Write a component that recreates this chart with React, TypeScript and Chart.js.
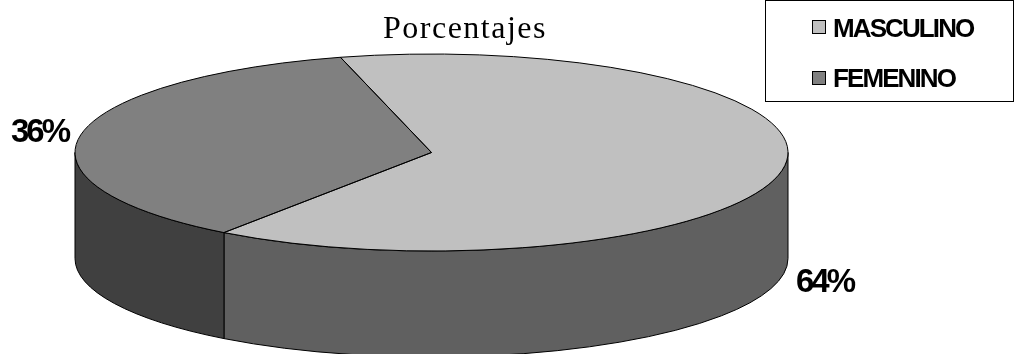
import React, { useEffect, useRef } from "react";
import { Chart, registerables } from "chart.js";

Chart.register(...registerables);

const categories = ["MASCULINO", "FEMENINO"];
const percentages = [64, 36];
const topColors = ["#c0c0c0", "#808080"];
const wallColors = ["#606060", "#404040"];
const chartTitle = "Porcentajes";

// Geometry of the tilted disc
const CX = 431.5;
const CY = 152.5;
const RX = 356.5;
const RY = 98.5;
const DEPTH = 106;
const LINE = "#000000";

const FULL = Math.PI * 2;

function arcProps(chart: any) {
  return chart
    .getDatasetMeta(0)
    .data.map((a: any) => a.getProps(["x", "y", "startAngle", "endAngle", "outerRadius"], true));
}

function drawText(
  ctx: CanvasRenderingContext2D,
  text: string,
  x: number,
  y: number,
  font: string,
  spacing: number,
  clipRight?: number
) {
  ctx.save();
  if (clipRight !== undefined) {
    ctx.beginPath();
    ctx.rect(0, 0, clipRight, 354);
    ctx.clip();
  }
  ctx.font = font;
  (ctx as any).letterSpacing = `${spacing}px`;
  ctx.fillStyle = "#000000";
  ctx.textAlign = "left";
  ctx.textBaseline = "alphabetic";
  ctx.fillText(text, x, y);
  ctx.restore();
}

// Squashes the library's pie into an ellipse and adds the cylinder wall below it
const discPlugin = {
  id: "disc",
  beforeDatasetsDraw(chart: any) {
    const ctx: CanvasRenderingContext2D = chart.ctx;
    const arcs = arcProps(chart);
    arcs.forEach((a: any, i: number) => {
      for (let k = -1; k <= 1; k++) {
        const s = Math.max(a.startAngle, k * FULL);
        const e = Math.min(a.endAngle, k * FULL + Math.PI);
        if (e <= s) continue;
        ctx.beginPath();
        ctx.ellipse(CX, CY, RX, RY, 0, s, e);
        ctx.ellipse(CX, CY + DEPTH, RX, RY, 0, e, s, true);
        ctx.closePath();
        ctx.fillStyle = wallColors[i];
        ctx.fill();
        ctx.strokeStyle = LINE;
        ctx.lineWidth = 1;
        ctx.stroke();
      }
    });
    const a0 = arcs[0];
    ctx.save();
    ctx.translate(CX, CY);
    ctx.scale(RX / a0.outerRadius, RY / a0.outerRadius);
    ctx.translate(-a0.x, -a0.y);
  },
  afterDatasetsDraw(chart: any) {
    const ctx: CanvasRenderingContext2D = chart.ctx;
    ctx.restore();
    arcProps(chart).forEach((a: any) => {
      ctx.beginPath();
      ctx.moveTo(CX, CY);
      ctx.ellipse(CX, CY, RX, RY, 0, a.startAngle, a.endAngle);
      ctx.closePath();
      ctx.strokeStyle = LINE;
      ctx.lineWidth = 1;
      ctx.stroke();
    });
  },
  afterDraw(chart: any) {
    const ctx: CanvasRenderingContext2D = chart.ctx;
    drawText(ctx, chartTitle, 383, 37.5, '32px "Liberation Serif"', 1.5);

    // Legend panel
    ctx.save();
    ctx.strokeStyle = "#000000";
    ctx.lineWidth = 1;
    ctx.strokeRect(765.5, 0.5, 248, 101);
    categories.forEach((name, i) => {
      const y = i === 0 ? 20.5 : 71.5;
      ctx.fillStyle = topColors[i];
      ctx.fillRect(812.5, y, 13, 13);
      ctx.strokeStyle = "#000000";
      ctx.strokeRect(812.5, y, 13, 13);
      drawText(ctx, name, 833, i === 0 ? 37 : 87, 'bold 26px "Liberation Sans"', -1.9);
    });
    ctx.restore();

    // Slice value labels
    drawText(ctx, `${percentages[1]}%`, 11, 142, 'bold 33px "Liberation Sans"', -3, 72);
    drawText(ctx, `${percentages[0]}%`, 796, 292, 'bold 33px "Liberation Sans"', -3, 856);
  },
};

export default function App() {
  const ref = useRef<HTMLCanvasElement>(null);
  useEffect(() => {
    document.body.style.margin = "0";
    const chart = new Chart(ref.current as HTMLCanvasElement, {
      type: "pie",
      data: {
        labels: categories,
        datasets: [{ data: percentages, backgroundColor: topColors, borderWidth: 0 }],
      },
      options: {
        responsive: false,
        animation: false,
        rotation: -14.8,
        layout: { padding: 0 },
        plugins: { legend: { display: false }, tooltip: { enabled: false }, title: { display: false } },
      },
      plugins: [discPlugin],
    } as any);
    return () => chart.destroy();
  }, []);
  return <canvas ref={ref} width={1014} height={354} style={{ display: "block" }} />;
}
